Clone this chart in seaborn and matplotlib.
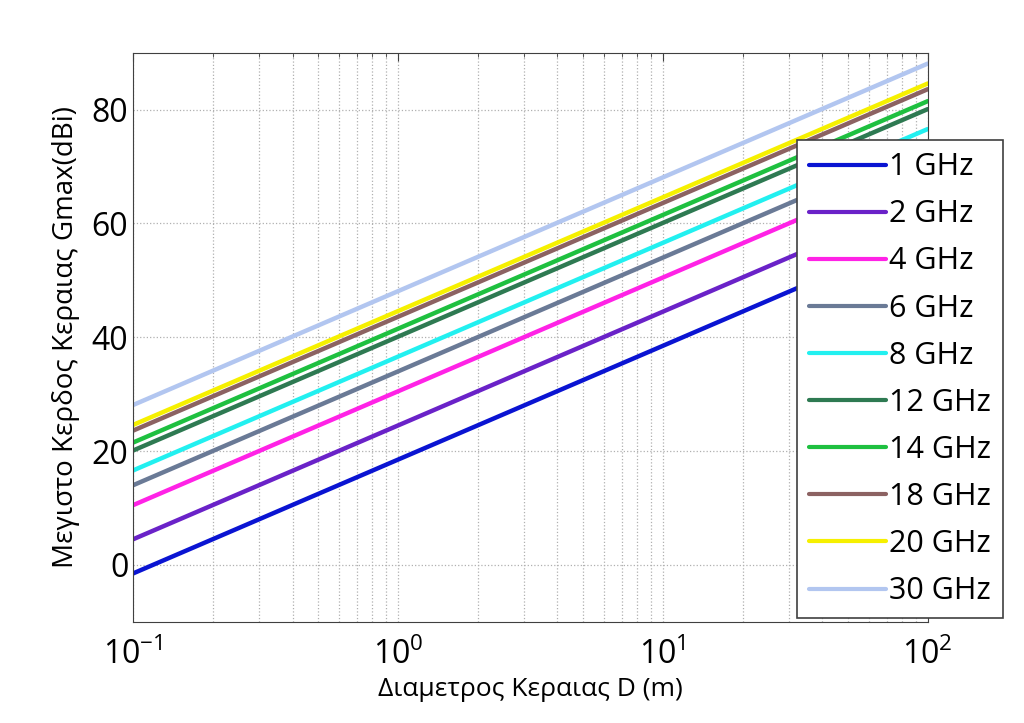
import numpy as np
import pandas as pd
import seaborn as sns
import matplotlib.pyplot as plt
from matplotlib.ticker import LogLocator, NullFormatter

# antenna diameter range (m) and gain read at both ends (dBi)
diameters = [0.1, 100]
freq_labels = ['1 GHz', '2 GHz', '4 GHz', '6 GHz', '8 GHz',
               '12 GHz', '14 GHz', '18 GHz', '20 GHz', '30 GHz']
gain_small = [-1.5, 4.5, 10.5, 14.0, 16.6, 20.1, 21.5, 23.6, 24.6, 28.1]
gain_large = [58.5, 64.5, 70.5, 74.0, 76.6, 80.1, 81.5, 83.6, 84.6, 88.1]
colors = ['#0a14d2', '#6a22c8', '#ff22e6', '#6a7a96', '#22f0f0',
          '#2e7a52', '#1ec040', '#8c6262', '#f6f000', '#b2c6f0']

rows = []
for lab, g0, g1 in zip(freq_labels, gain_small, gain_large):
    rows.append((diameters[0], g0, lab))
    rows.append((diameters[1], g1, lab))
df = pd.DataFrame(rows, columns=['D', 'G', 'f'])

sns.set_style('white')
plt.rcParams['font.family'] = ['Open Sans', 'DejaVu Sans']
plt.rcParams['mathtext.fontset'] = 'custom'
plt.rcParams['mathtext.rm'] = 'Open Sans'
plt.rcParams['mathtext.it'] = 'Open Sans'
plt.rcParams['text.color'] = 'black'
plt.rcParams['axes.labelcolor'] = 'black'
plt.rcParams['xtick.color'] = 'black'
plt.rcParams['ytick.color'] = 'black'

fig = plt.figure(figsize=(10.24, 7.23), dpi=100)
ax = fig.add_axes([0.130, 0.140, 0.776, 0.787])

sns.lineplot(data=df, x='D', y='G', hue='f', palette=colors,
             hue_order=freq_labels, linewidth=3.2, ax=ax)

ax.set_xscale('log')
ax.set_xlim(0.1, 100)
ax.set_ylim(-10, 90)
ax.set_yticks([0, 20, 40, 60, 80])
ax.xaxis.set_minor_locator(LogLocator(base=10, subs=np.arange(2, 10)))
ax.xaxis.set_minor_formatter(NullFormatter())

ax.grid(True, which='major', linestyle=':', color='#b0b0b0', linewidth=0.9)
ax.grid(True, which='minor', axis='x', linestyle=':', color='#b0b0b0', linewidth=0.9)
ax.tick_params(which='both', direction='in', top=True, right=True,
               labelsize=23, length=6, color='#404040')
ax.tick_params(which='minor', length=3)
ax.tick_params(axis='x', pad=12)
for s in ax.spines.values():
    s.set_color('#404040')

ax.set_xlabel('Διαμετρος Κεραιας D (m)', fontsize=19, labelpad=4)
ax.set_ylabel('Μεγιστο Κερδος Κεραιας Gmax(dBi)', fontsize=20, labelpad=8)

leg = ax.legend(loc='upper left', bbox_to_anchor=(797 / 1024, 1 - 140 / 723),
                bbox_transform=fig.transFigure, fontsize=22, frameon=True,
                fancybox=False, edgecolor='#404040', framealpha=1,
                handlelength=2.5, labelspacing=0.56, borderpad=0.4,
                handletextpad=0.1, borderaxespad=0)
leg.get_frame().set_linewidth(1.2)
for line in leg.get_lines():
    line.set_linewidth(3)

fig.savefig('out.png', dpi=100)
